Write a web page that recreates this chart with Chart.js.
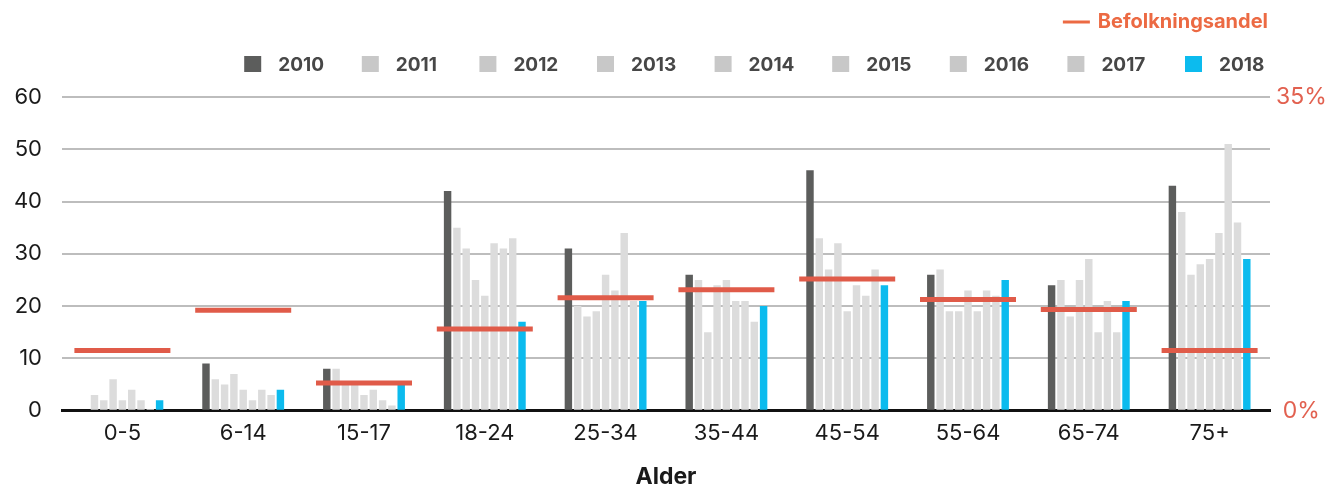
<!DOCTYPE html>
<html>
<head>
<meta charset="utf-8">
<script src="https://cdn.jsdelivr.net/npm/chart.js@4/dist/chart.umd.min.js"></script>
<style>
  html, body { margin: 0; padding: 0; background: #ffffff; }
  #wrap { width: 1330px; height: 486px; }
</style>
</head>
<body>
<div id="wrap"><canvas id="c" width="1330" height="486"></canvas></div>
<script>
// Age groups on the x axis
const ageGroups = ['0-5', '6-14', '15-17', '18-24', '25-34', '35-44', '45-54', '55-64', '65-74', '75+'];
const years = ['2010', '2011', '2012', '2013', '2014', '2015', '2016', '2017', '2018'];

// Values per year, one entry per age group
const v2010 = [0, 9, 8, 42, 31, 26, 46, 26, 24, 43];
const v2011 = [3, 6, 8, 35, 20, 25, 33, 27, 25, 38];
const v2012 = [2, 5, 5, 31, 18, 15, 27, 19, 18, 26];
const v2013 = [6, 7, 5, 25, 19, 24, 32, 19, 25, 28];
const v2014 = [2, 4, 3, 22, 26, 25, 19, 23, 29, 29];
const v2015 = [4, 2, 4, 32, 23, 21, 24, 19, 15, 34];
const v2016 = [2, 4, 2, 31, 34, 21, 22, 23, 21, 51];
const v2017 = [0.3, 3, 1, 33, 21, 17, 27, 22, 15, 36];
const v2018 = [2, 4, 5, 17, 21, 20, 24, 25, 21, 29];

// Share of population (%) per age group, right axis
const befolkningsandel = [6.7, 11.2, 3.1, 9.1, 12.6, 13.5, 14.7, 12.4, 11.3, 6.7];

// Tick values
const leftTicks = [0, 10, 20, 30, 40, 50, 60];
const rightTicks = [0, 35];

const FONT = 'Inter, "Liberation Sans", Arial, sans-serif';
const DARK = '#5c5d5c';
const LIGHT = '#dcdcdc';
const LIGHT_KEY = '#c8c8c8';
const BLUE = '#0cbbee';
const RED = '#e05b49';
const RED_KEY = '#ec6a43';
const LINE_LABEL = 'Befolkningsandel';

const yearValues = [v2010, v2011, v2012, v2013, v2014, v2015, v2016, v2017, v2018];
const barColor = (i) => (i === 0 ? DARK : i === years.length - 1 ? BLUE : LIGHT);
const keyColor = (i) => (i === 0 ? DARK : i === years.length - 1 ? BLUE : LIGHT_KEY);

const barSets = years.map((y, i) => ({
  type: 'bar',
  label: y,
  data: yearValues[i],
  backgroundColor: barColor(i),
  keyColor: keyColor(i),
  yAxisID: 'y',
  categoryPercentage: 0.693,
  barPercentage: 0.8,
  order: 1
}));

const shareSet = {
  type: 'line',
  label: LINE_LABEL,
  data: befolkningsandel,
  yAxisID: 'y1',
  showLine: false,
  pointStyle: 'line',
  pointRadius: 48,
  pointHoverRadius: 48,
  pointBorderWidth: 5,
  pointHoverBorderWidth: 5,
  borderColor: RED,
  pointBorderColor: RED,
  pointBackgroundColor: RED,
  order: 0
};

// Two-row key above the plot: the population line on top, the years below
const keyPlugin = {
  id: 'yearKey',
  afterDraw(chart) {
    const ctx = chart.ctx;
    const right = chart.chartArea.right;
    ctx.save();
    ctx.textBaseline = 'middle';
    ctx.textAlign = 'left';

    // Population share entry
    ctx.font = 'bold 20px ' + FONT;
    const w = ctx.measureText(LINE_LABEL).width;
    const tx = right - 2 - w;
    const ty = 22;
    ctx.fillStyle = RED_KEY;
    ctx.fillText(LINE_LABEL, tx, ty);
    ctx.strokeStyle = RED_KEY;
    ctx.lineWidth = 3;
    ctx.beginPath();
    ctx.moveTo(tx - 35, ty);
    ctx.lineTo(tx - 8, ty);
    ctx.stroke();

    // Year entries
    ctx.font = 'bold 19px ' + FONT;
    const step = 117.6;
    const ky = 64;
    const n = barSets.length;
    chart.data.datasets.forEach((ds) => {
      if (ds.type !== 'bar') return;
      const idx = years.indexOf(ds.label);
      const bx = right - 85 - (n - 1 - idx) * step;
      ctx.fillStyle = ds.keyColor;
      ctx.fillRect(bx, ky - 8, 17, 16);
      ctx.fillStyle = '#474747';
      ctx.fillText(ds.label, bx + 34, ky + 1);
    });
    ctx.restore();
  }
};

new Chart(document.getElementById('c'), {
  data: {
    labels: ageGroups,
    datasets: [...barSets, shareSet]
  },
  plugins: [keyPlugin],
  options: {
    responsive: false,
    maintainAspectRatio: false,
    animation: false,
    events: [],
    layout: { padding: { top: 97, left: 0, right: 0, bottom: 0 } },
    plugins: {
      legend: { display: false },
      title: { display: false },
      tooltip: { enabled: false }
    },
    scales: {
      x: {
        type: 'category',
        grid: { display: false, drawTicks: false },
        border: { display: true, color: '#111111', width: 3 },
        ticks: {
          padding: 10,
          color: '#1a1a1a',
          font: { family: FONT, size: 22 }
        },
        title: {
          display: true,
          text: 'Alder',
          color: '#1a1a1a',
          font: { family: FONT, size: 23, weight: 'bold', lineHeight: 0.78 },
          padding: { top: 11, bottom: 0 }
        }
      },
      y: {
        position: 'left',
        min: 0,
        max: 60,
        afterBuildTicks: (s) => { s.ticks = leftTicks.map((v) => ({ value: v })); },
        afterFit: (s) => { s.width = 62; },
        grid: {
          drawTicks: false,
          lineWidth: 2,
          color: (c) => (c.tick && c.tick.value === 0 ? 'rgba(0,0,0,0)' : '#bdbdbd')
        },
        border: { display: false },
        ticks: {
          padding: 20,
          color: '#1a1a1a',
          font: { family: FONT, size: 22 }
        }
      },
      y1: {
        position: 'right',
        min: 0,
        max: 35,
        afterBuildTicks: (s) => { s.ticks = rightTicks.map((v) => ({ value: v })); },
        afterFit: (s) => { s.width = 60; },
        grid: { display: false, drawTicks: false },
        border: { display: false },
        ticks: {
          padding: 6,
          crossAlign: 'center',
          color: '#e26150',
          font: { family: FONT, size: 23 },
          callback: (v) => v + '%'
        }
      }
    }
  }
});
</script>
</body>
</html>
